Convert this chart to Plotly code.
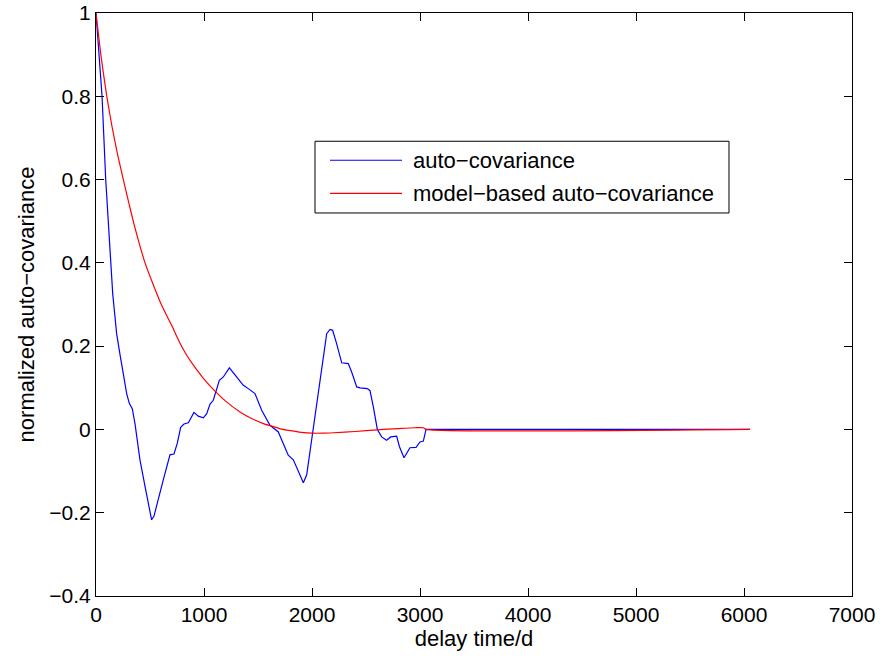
import plotly.graph_objects as go

# ---- data ----
acov_x = [0, 56, 90, 136, 155, 176, 191, 222, 284, 309, 336, 361, 407, 454, 515, 537,
          577, 623, 685, 722, 753, 784, 815, 855, 907, 947, 994, 1025, 1056, 1086, 1142,
          1179, 1235, 1302, 1364, 1410, 1472, 1534, 1611, 1688, 1750, 1780, 1827, 1873,
          1920, 1951, 2012, 2059, 2105, 2136, 2167, 2191, 2228, 2275, 2336, 2367, 2414,
          2444, 2512, 2537, 2568, 2605, 2645, 2691, 2729, 2784, 2809, 2852, 2907, 2963,
          3000, 3031, 3056, 6056]
acov_y = [1.0, 0.8, 0.6, 0.4, 0.325, 0.27, 0.23, 0.18, 0.086, 0.062, 0.05, 0.014, -0.073,
          -0.137, -0.217, -0.208, -0.165, -0.121, -0.061, -0.059, -0.033, 0.005, 0.013,
          0.016, 0.041, 0.032, 0.028, 0.038, 0.061, 0.07, 0.118, 0.126, 0.148, 0.126,
          0.106, 0.098, 0.086, 0.046, 0.010, -0.006, -0.041, -0.062, -0.073, -0.101,
          -0.128, -0.109, 0.006, 0.094, 0.182, 0.23, 0.24, 0.238, 0.206, 0.16, 0.158,
          0.138, 0.102, 0.10, 0.098, 0.093, 0.054, 0.0, -0.018, -0.026, -0.018, -0.016,
          -0.041, -0.068, -0.044, -0.043, -0.03, -0.028, 0.0, 0.0]

model_x = [0, 50, 100, 150, 200, 253, 300, 350, 400, 454, 531, 608, 700, 778, 840, 900,
           1000, 1102, 1200, 1333, 1450, 1550, 1627, 1700, 1800, 1900, 2000, 2100, 2200,
           2400, 2600, 2800, 2950, 3031, 3056, 6056]
model_y = [1.0, 0.89, 0.80, 0.725, 0.66, 0.60, 0.548, 0.495, 0.447, 0.40, 0.347, 0.298,
           0.25, 0.207, 0.178, 0.155, 0.121, 0.092, 0.068, 0.042, 0.025, 0.014, 0.008,
           0.002, -0.003, -0.007, -0.009, -0.009, -0.008, -0.005, -0.001, 0.002, 0.004,
           0.004, 0.0, 0.0]

series_names = ["auto\u2212covariance", "model\u2212based auto\u2212covariance"]
series_colors = ["#0000ff", "#ff0000"]

FONT = "Liberation Sans, Arial, Helvetica, sans-serif"
FS = 22
TFS = 21

fig = go.Figure()
fig.add_trace(go.Scatter(x=acov_x, y=acov_y, mode="lines", name=series_names[0],
                         line=dict(color=series_colors[0], width=1.2), showlegend=False))
fig.add_trace(go.Scatter(x=model_x, y=model_y, mode="lines", name=series_names[1],
                         line=dict(color=series_colors[1], width=1.2, shape="spline",
                                   smoothing=0.6),
                         showlegend=False))

axis_common = dict(showgrid=False, zeroline=False, showline=True, linecolor="black",
                   linewidth=1, mirror="ticks", ticks="inside", ticklen=8,
                   tickcolor="black", tickwidth=1, ticklabeloverflow="allow",
                   automargin=False,
                   tickfont=dict(family=FONT, size=TFS, color="black"))

fig.update_xaxes(range=[0, 7000], dtick=1000, tick0=0,
                 title=dict(text="delay time/d", font=dict(family=FONT, size=FS, color="black"),
                            standoff=2),
                 **axis_common)
fig.update_yaxes(range=[-0.4, 1.0000001], dtick=0.2, tick0=0,
                 title=dict(text="normalized auto\u2212covariance",
                            font=dict(family=FONT, size=FS, color="black"), standoff=8),
                 **axis_common)

# custom legend (box, line samples, labels) in paper coordinates
lx0, lx1, ly0, ly1 = 0.2897, 0.8373, 0.657, 0.780
sx0, sx1, tx = 0.3095, 0.4048, 0.4167
rows_y = [0.7474, 0.6906]
shapes = [dict(type="rect", xref="paper", yref="paper", x0=lx0, x1=lx1, y0=ly0, y1=ly1,
               line=dict(color="black", width=1), fillcolor="white", layer="above")]
annotations = []
for name, col, yy in zip(series_names, series_colors, rows_y):
    shapes.append(dict(type="line", xref="paper", yref="paper", x0=sx0, x1=sx1, y0=yy, y1=yy,
                       line=dict(color=col, width=1.2), layer="above"))
    annotations.append(dict(xref="paper", yref="paper", x=tx, y=yy, xanchor="left",
                            yanchor="middle", text=name, showarrow=False,
                            font=dict(family=FONT, size=FS, color="black")))

fig.update_layout(width=880, height=657, plot_bgcolor="white", paper_bgcolor="white",
                  margin=dict(l=96, r=28, t=13, b=61, pad=0),
                  shapes=shapes, annotations=annotations)

fig.write_html("out.html")
